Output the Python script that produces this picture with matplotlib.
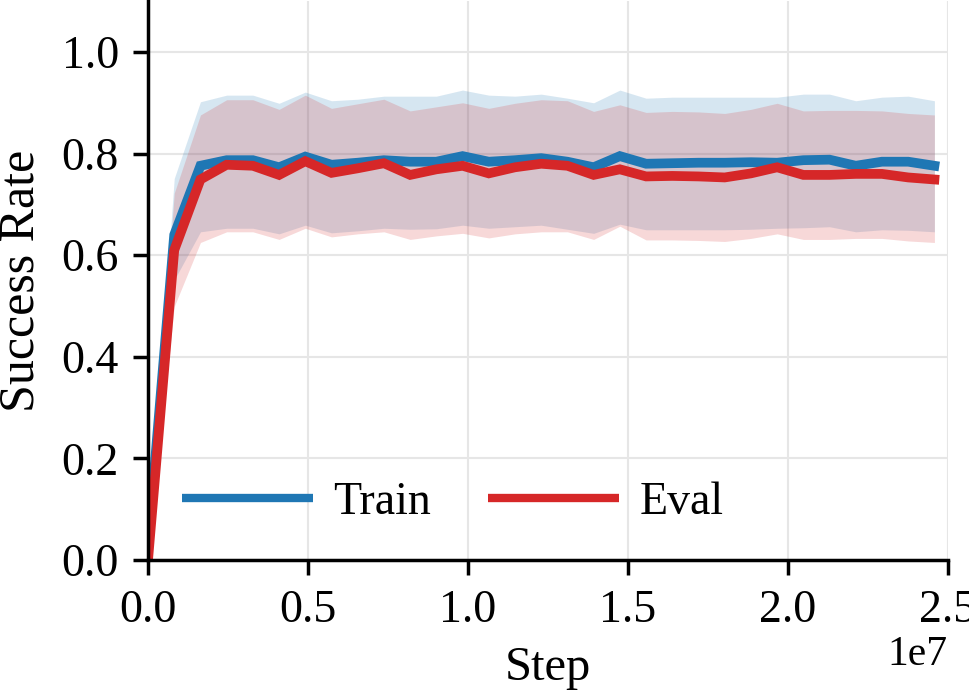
import matplotlib
matplotlib.use("Agg")
import matplotlib.pyplot as plt
import numpy as np

# Steps (environment steps)
steps = [0, 819200, 1638400, 2457600, 3276800, 4096000, 4915200, 5734400, 6553600,
         7372800, 8192000, 9011200, 9830400, 10649600, 11468800, 12288000, 13107200,
         13926400, 14745600, 15564800, 16384000, 17203200, 18022400, 18841600,
         19660800, 20480000, 21299200, 22118400, 22937600, 23756800, 24576000]

train_mean = [0.03, 0.640, 0.776, 0.787, 0.787, 0.773, 0.794, 0.778, 0.782, 0.787, 0.784,
              0.784, 0.795, 0.784, 0.787, 0.791, 0.784, 0.773, 0.795, 0.780, 0.781,
              0.782, 0.782, 0.783, 0.782, 0.787, 0.788, 0.776, 0.784, 0.784, 0.776]
train_upper = [0.03, 0.751, 0.902, 0.915, 0.915, 0.899, 0.921, 0.904, 0.907, 0.913, 0.913,
               0.913, 0.925, 0.915, 0.913, 0.917, 0.909, 0.900, 0.925, 0.909, 0.911,
               0.911, 0.911, 0.911, 0.911, 0.917, 0.917, 0.904, 0.911, 0.913, 0.904]
train_lower = [0.03, 0.551, 0.646, 0.653, 0.653, 0.642, 0.659, 0.644, 0.648, 0.653, 0.651,
               0.652, 0.659, 0.653, 0.656, 0.659, 0.651, 0.643, 0.661, 0.650, 0.650,
               0.650, 0.650, 0.651, 0.653, 0.654, 0.656, 0.646, 0.650, 0.649, 0.646]

eval_mean = [0.0, 0.610, 0.749, 0.778, 0.776, 0.758, 0.785, 0.762, 0.771, 0.781, 0.758,
             0.769, 0.776, 0.761, 0.773, 0.780, 0.776, 0.758, 0.769, 0.755, 0.756,
             0.755, 0.753, 0.761, 0.773, 0.758, 0.758, 0.760, 0.760, 0.753, 0.749]
eval_upper = [0.0, 0.722, 0.876, 0.906, 0.906, 0.887, 0.915, 0.889, 0.898, 0.907, 0.884,
              0.892, 0.900, 0.889, 0.899, 0.906, 0.904, 0.883, 0.896, 0.881, 0.883,
              0.882, 0.879, 0.887, 0.899, 0.884, 0.885, 0.885, 0.884, 0.879, 0.876]
eval_lower = [0.0, 0.499, 0.625, 0.646, 0.646, 0.631, 0.653, 0.636, 0.642, 0.646, 0.631,
              0.638, 0.643, 0.634, 0.642, 0.646, 0.646, 0.631, 0.657, 0.630, 0.630,
              0.629, 0.627, 0.633, 0.642, 0.631, 0.631, 0.633, 0.633, 0.628, 0.625]

xticks = [0.0, 0.5e7, 1.0e7, 1.5e7, 2.0e7, 2.5e7]
yticks = [0.0, 0.2, 0.4, 0.6, 0.8, 1.0]

plt.rcParams['font.family'] = ['Liberation Serif', 'DejaVu Serif']
plt.rcParams['mathtext.fontset'] = 'stix'

BLUE = '#1f77b4'
RED = '#d62728'

fig = plt.figure(figsize=(9.70, 6.92), dpi=100)
ax = fig.add_axes([0.1526, 0.1908, 0.8247, 0.8075])

ax.fill_between(steps, train_lower, train_upper, color=BLUE, alpha=0.18, linewidth=0)
ax.fill_between(steps, eval_lower, eval_upper, color=RED, alpha=0.18, linewidth=0)
ax.plot(steps, train_mean, color=BLUE, linewidth=7, label='Train', solid_joinstyle='miter')
ax.plot(steps, eval_mean, color=RED, linewidth=7, label='Eval', solid_joinstyle='miter')

ax.set_xlim(0, 2.5e7)
ax.set_ylim(0, 1.1)
ax.set_xticks(xticks)
ax.set_yticks(yticks)
ax.tick_params(axis='both', labelsize=33, width=2.5, length=11, direction='out', pad=10)
ax.xaxis.get_offset_text().set_fontsize(30)

ax.grid(True, color='#e6e6e6', linewidth=1.5)
ax.set_axisbelow(True)

for s in ['top', 'right']:
    ax.spines[s].set_visible(False)
for s in ['left', 'bottom']:
    ax.spines[s].set_linewidth(2.5)
    ax.spines[s].set_color('black')

ax.set_xlabel('Step', fontsize=35, labelpad=10)
ax.set_ylabel('Success Rate', fontsize=36, labelpad=12)

leg = ax.legend(loc='center', bbox_to_anchor=(0.381, 0.102), ncol=2, frameon=False,
                fontsize=33, handlelength=2.85, handletextpad=0.45, columnspacing=1.25)
for h in leg.get_lines():
    h.set_linewidth(6)
    h.set_solid_capstyle('butt')

fig.savefig('out.png', dpi=100)
